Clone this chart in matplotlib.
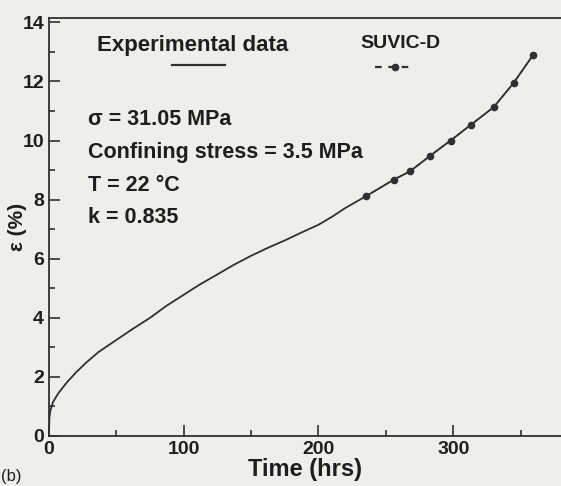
import matplotlib.pyplot as plt
from matplotlib.lines import Line2D
from matplotlib.ticker import MultipleLocator

# experimental creep curve (hrs, %)
t_exp = [0, 0.3, 1, 3, 7, 13, 20, 28, 37, 50, 62, 75, 87, 100, 112, 125,
         137, 150, 162, 175, 187, 200, 210, 220, 235, 256, 268, 283, 298,
         313, 330, 345, 359]
eps_exp = [0, 0.6, 0.85, 1.15, 1.45, 1.8, 2.15, 2.5, 2.85, 3.25, 3.62,
           4.0, 4.4, 4.78, 5.13, 5.47, 5.79, 6.1, 6.36, 6.62, 6.88, 7.15,
           7.42, 7.72, 8.11, 8.68, 8.96, 9.49, 10.0, 10.53, 11.13, 11.96,
           12.88]

# SUVIC-D model points
t_suv = [235, 256, 268, 283, 298, 313, 330, 345, 359]
eps_suv = [8.11, 8.68, 8.96, 9.49, 10.0, 10.53, 11.13, 11.96, 12.88]

bg = '#eeeeea'
ink = '#303030'
txt = '#1e1e1e'
plt.rcParams['font.family'] = ['Liberation Sans', 'DejaVu Sans']

fig = plt.figure(figsize=(5.61, 4.86), dpi=100, facecolor=bg)
ax = fig.add_axes([0.0873, 0.1029, 0.9127, 0.8601])
ax.set_facecolor(bg)

ax.plot(t_exp, eps_exp, '-', color=ink, lw=1.3)
ax.plot(t_suv, eps_suv, '--', color=ink, lw=1.0, marker='o', ms=4.5)

ax.set_xlim(0, 380)
ax.set_ylim(0, 14.15)
ax.xaxis.set_major_locator(MultipleLocator(100))
ax.xaxis.set_minor_locator(MultipleLocator(50))
ax.yaxis.set_major_locator(MultipleLocator(2))
ax.yaxis.set_minor_locator(MultipleLocator(1))
ax.tick_params(which='both', direction='in', color=ink, width=1.2,
               labelsize=14, labelcolor=txt)
ax.tick_params(which='major', length=8)
ax.tick_params(which='minor', length=4)
for lab in ax.get_xticklabels() + ax.get_yticklabels():
    lab.set_fontweight('bold')

for s in ['left', 'bottom', 'top']:
    ax.spines[s].set_color(ink)
    ax.spines[s].set_linewidth(1.3)
ax.spines['right'].set_visible(False)

ax.set_xlabel('Time (hrs)', fontsize=17, fontweight='bold', color=txt,
              labelpad=0)
ax.set_ylabel('\u03b5 (%)', fontsize=15, fontweight='bold', color=txt)
ax.yaxis.set_label_coords(-0.043, 0.5)

# legend drawn as text with keys below
ax.text(0.281, 0.935, 'Experimental data', transform=ax.transAxes,
        ha='center', va='center', fontsize=16, fontweight='bold', color=txt)
ax.add_line(Line2D([0.24, 0.344], [0.888, 0.888], transform=ax.transAxes,
                   color=ink, lw=1.6))
ax.text(0.686, 0.940, 'SUVIC-D', transform=ax.transAxes, ha='center',
        va='center', fontsize=14, fontweight='bold', color=txt)
ax.add_line(Line2D([0.637, 0.715], [0.883, 0.883], transform=ax.transAxes,
                   color=ink, lw=1.6, ls='--', dashes=(3, 3)))
ax.add_line(Line2D([0.676], [0.883], transform=ax.transAxes, color=ink,
                   marker='o', ms=4.5))

info = ['\u03c3 = 31.05 MPa', 'Confining stress = 3.5 MPa',
        'T = 22 \u00b0C', 'k = 0.835']
info_y = [0.756, 0.677, 0.600, 0.522]
for s, y in zip(info, info_y):
    ax.text(0.076, y, s, transform=ax.transAxes, ha='left', va='center',
            fontsize=15.5, fontweight='bold', color=txt)

fig.text(0.002, 0.02, '(b)', fontsize=12, color=txt, ha='left', va='center')

fig.savefig('out.png', dpi=100, facecolor=bg)
